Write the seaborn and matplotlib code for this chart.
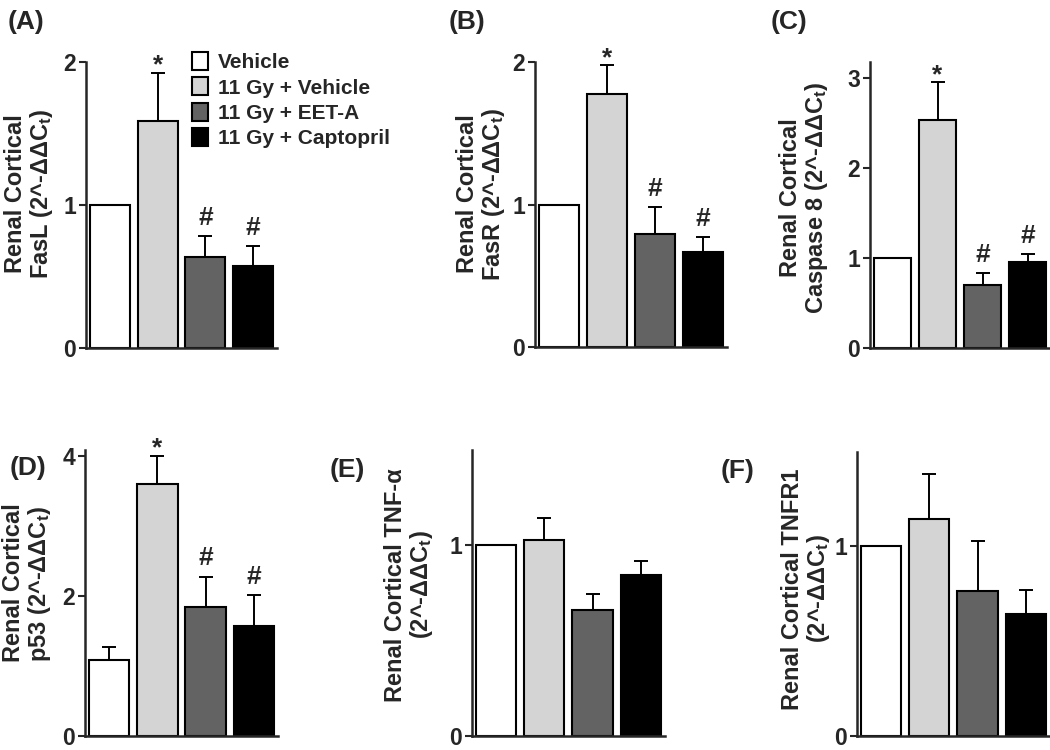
import matplotlib
matplotlib.use("Agg")
import matplotlib.pyplot as plt
import matplotlib.patches as mpatches
import seaborn as sns
import pandas as pd
import numpy as np

sns.set_style("ticks")
plt.rcParams['font.family'] = ['Liberation Sans', 'DejaVu Sans']
plt.rcParams['font.weight'] = 'bold'
plt.rcParams['axes.labelweight'] = 'bold'
plt.rcParams['mathtext.default'] = 'regular'

# ---------------- data ----------------
groups = ["Vehicle", "11 Gy + Vehicle", "11 Gy + EET-A", "11 Gy + Captopril"]
colors = ["#ffffff", "#d4d4d4", "#636363", "#000000"]

fasl_mean = [1.00, 1.59, 0.636, 0.575]
fasl_sem = [0.0, 0.335, 0.145, 0.135]
fasr_mean = [1.00, 1.774, 0.79, 0.667]
fasr_sem = [0.0, 0.206, 0.195, 0.105]
casp8_mean = [1.00, 2.53, 0.697, 0.955]
casp8_sem = [0.0, 0.42, 0.13, 0.085]
p53_mean = [1.083, 3.61, 1.846, 1.577]
p53_sem = [0.187, 0.40, 0.434, 0.433]
tnfa_mean = [1.00, 1.026, 0.659, 0.842]
tnfa_sem = [0.0, 0.117, 0.086, 0.077]
tnfr1_mean = [1.00, 1.144, 0.763, 0.645]
tnfr1_sem = [0.0, 0.239, 0.265, 0.126]

marks_sig = ["", "*", "#", "#"]
marks_none = ["", "", "", ""]

panel_letters = ["(A)", "(B)", "(C)", "(D)", "(E)", "(F)"]
ylabels = [
    "Renal Cortical\nFasL (2^-ΔΔC$_t$)",
    "Renal Cortical\nFasR (2^-ΔΔC$_t$)",
    "Renal Cortical\nCaspase 8 (2^-ΔΔC$_t$)",
    "Renal Cortical\np53 (2^-ΔΔC$_t$)",
    "Renal Cortical TNF-α\n(2^-ΔΔC$_t$)",
    "Renal Cortical TNFR1\n(2^-ΔΔC$_t$)",
]
yticks_list = [[0, 1, 2], [0, 1, 2], [0, 1, 2, 3], [0, 2, 4], [0, 1], [0, 1]]
ymax_list = [2.0, 2.0, 3.18, 4.09, 1.5, 1.5]
means_list = [fasl_mean, fasr_mean, casp8_mean, p53_mean, tnfa_mean, tnfr1_mean]
sems_list = [fasl_sem, fasr_sem, casp8_sem, p53_sem, tnfa_sem, tnfr1_sem]
marks_list = [marks_sig, marks_sig, marks_sig, marks_sig, marks_none, marks_none]

# ---------------- layout (pixels) ----------------
W, H = 1050, 750
# (x_left, x_right, y_zero, y_top)
axes_px = [
    (86, 277, 348, 62),
    (535, 727, 347, 62),
    (870, 1050, 347.7, 61.7),
    (85, 278, 736, 450),
    (471.7, 665, 736, 450),
    (856.7, 1050, 736, 451.7),
]
label_xy = [(-0.162, 0.54), (-0.146, 0.537), (-0.22, 0.523),
            (-0.166, 0.538), (-0.19, 0.528), (-0.128, 0.517)]
label_align = ["center", "center", "center", "left", "center", "center"]
letter_px = [(8, 29), (449, 29), (771, 29), (10, 475), (330, 477), (721, 478)]

fig = plt.figure(figsize=(W / 100, H / 100), dpi=100)

for i in range(6):
    xl, xr, y0, yt = axes_px[i]
    ax = fig.add_axes([xl / W, (H - y0) / H, (xr - xl) / W, (y0 - yt) / H])
    df = pd.DataFrame({"group": groups, "value": means_list[i]})
    sns.barplot(data=df, x="group", y="value", hue="group", palette=colors,
                order=groups, hue_order=groups, width=0.84, edgecolor="black",
                linewidth=1.5, errorbar=None, legend=False, ax=ax, zorder=2)
    xs = np.arange(len(groups))
    m = np.array(means_list[i])
    s = np.array(sems_list[i])
    keep = s > 0
    ax.errorbar(xs[keep], m[keep], yerr=[np.zeros(keep.sum()), s[keep]],
                fmt="none", ecolor="black", elinewidth=1.4, capsize=5,
                capthick=1.4, zorder=1)
    for j, mk in enumerate(marks_list[i]):
        if mk:
            off = 0 if mk == "*" else 8
            ax.annotate(mk, (xs[j], m[j] + s[j]), xytext=(0, off),
                        textcoords="offset points", ha="center", va="baseline",
                        fontsize=19, fontweight="bold")
    ax.set_xlim(-0.5, 3.5)
    ax.set_ylim(0, ymax_list[i])
    ax.set_yticks(yticks_list[i])
    ax.set_xticks([])
    ax.set_xlabel("")
    ax.set_ylabel(ylabels[i], fontsize=17, fontweight="bold", linespacing=1.05,
                  multialignment=label_align[i])
    ax.yaxis.set_label_coords(*label_xy[i])
    ax.tick_params(axis="y", direction="out", length=5, width=1.5,
                   labelsize=16.5, pad=2)
    for lab in ax.get_yticklabels():
        lab.set_fontweight("bold")
    sns.despine(ax=ax)
    ax.spines["left"].set_linewidth(1.8)
    ax.spines["bottom"].set_linewidth(1.8)
    ax.set_facecolor("none")

    lx, ly = letter_px[i]
    fig.text(lx / W, (H - ly) / H, panel_letters[i], fontsize=19,
             fontweight="bold", ha="left", va="baseline")

handles = [mpatches.Patch(facecolor=c, edgecolor="black", linewidth=1.5, label=g)
           for c, g in zip(colors, groups)]
fig.legend(handles=handles, loc="upper left",
           bbox_to_anchor=(192 / W, (H - 52) / H), frameon=False,
           fontsize=15, handlelength=0.75, handleheight=0.95,
           handletextpad=0.5, labelspacing=0.25, borderpad=0,
           borderaxespad=0)

fig.savefig("out.png", dpi=100, facecolor="white")
